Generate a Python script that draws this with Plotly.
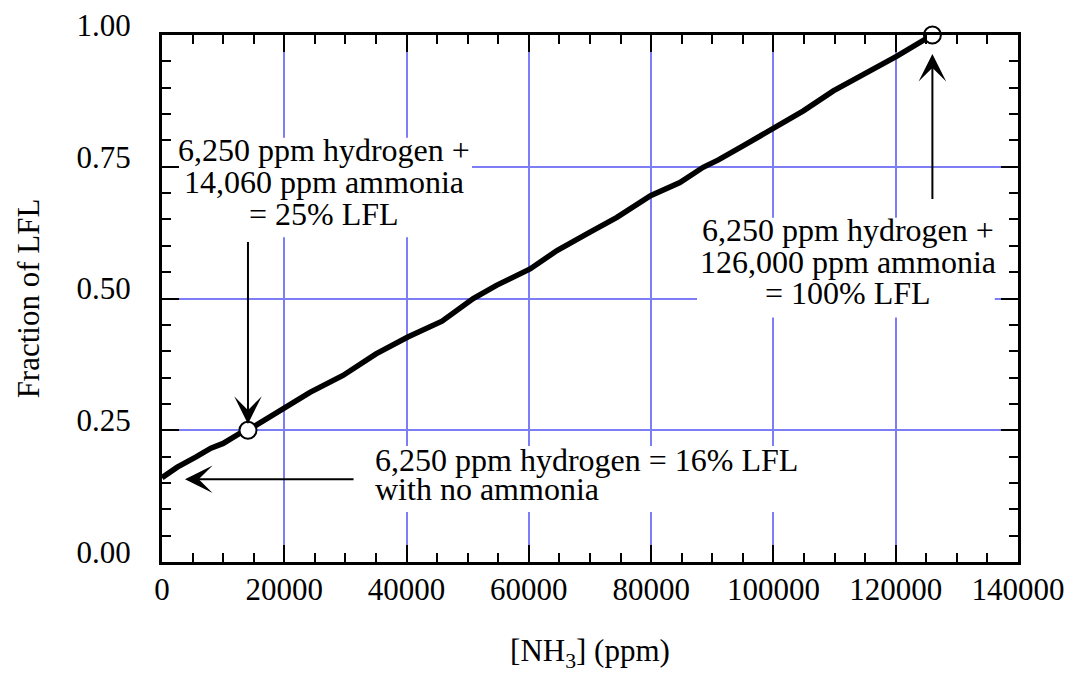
import plotly.graph_objects as go

# Ammonia concentration (ppm) and the resulting fraction of the lower flammability limit
nh3_ppm = [0, 2500, 5500, 8000, 10000, 12700, 14060, 17600, 20000, 24200, 29600,
           35000, 40200, 45800, 50900, 54700, 60200, 64600, 70000, 74400, 79900,
           84700, 88500, 91000, 95100, 100000, 104900, 109800, 115300, 120200, 126000]
frac_lfl = [0.16, 0.18, 0.199, 0.216, 0.225, 0.244, 0.25, 0.275, 0.291, 0.322, 0.354,
            0.395, 0.427, 0.457, 0.50, 0.525, 0.556, 0.591, 0.626, 0.654, 0.695,
            0.720, 0.749, 0.763, 0.790, 0.824, 0.856, 0.894, 0.929, 0.960, 1.00]

# Highlighted operating points
point_nh3 = [14060, 126000]
point_frac = [0.25, 1.00]

x_ticks = [0, 20000, 40000, 60000, 80000, 100000, 120000, 140000]
y_ticks = [0.00, 0.25, 0.50, 0.75, 1.00]

FONT = "Liberation Serif, Times New Roman, serif"
GRID = "rgb(125,125,245)"

fig = go.Figure()
fig.add_trace(go.Scatter(x=nh3_ppm, y=frac_lfl, mode="lines",
                         line=dict(color="black", width=5.5), showlegend=False))
fig.add_trace(go.Scatter(x=point_nh3, y=point_frac, mode="markers",
                         marker=dict(size=17, color="white",
                                     line=dict(color="black", width=2)),
                         showlegend=False, cliponaxis=False))

# White panels behind the labels so the grid does not run through the text
label_boxes = [
    (2100, 50700, 0.616, 0.805),
    (87500, 136200, 0.464, 0.653),
    (33200, 104400, 0.095, 0.220),
]
for x0, x1, y0, y1 in label_boxes:
    fig.add_shape(type="rect", xref="x", yref="y", x0=x0, x1=x1, y0=y0, y1=y1,
                  fillcolor="white", line=dict(width=0), layer="between")

ann_font = dict(family=FONT, size=32, color="black")
annotations = []

def text_line(x, y, text, anchor="center"):
    annotations.append(dict(x=x, y=y, xref="x", yref="y", text=text, showarrow=False,
                            xanchor=anchor, yanchor="middle", font=ann_font))

# 25 % LFL label
text_line(26500, 0.782, "6,250 ppm hydrogen +")
text_line(26500, 0.721, "14,060 ppm ammonia")
text_line(26500, 0.661, "= 25% LFL")
# 100 % LFL label
text_line(112150, 0.630, "6,250 ppm hydrogen +")
text_line(112150, 0.569, "126,000 ppm ammonia")
text_line(112150, 0.510, "= 100% LFL")
# no-ammonia label
text_line(34460, 0.193, "6,250 ppm hydrogen = 16% LFL", anchor="left")
text_line(34460, 0.139, "with no ammonia", anchor="left")

def arrow(x, y, ax, ay):
    annotations.append(dict(x=x, y=y, ax=ax, ay=ay, xref="x", yref="y",
                            axref="x", ayref="y", text="", showarrow=True,
                            arrowhead=3, arrowsize=2.3, arrowwidth=2,
                            arrowcolor="black", standoff=0, startstandoff=0))

arrow(14060, 0.262, 14060, 0.61)
arrow(3760, 0.157, 31570, 0.157)
arrow(126000, 0.964, 126000, 0.686)

axis_common = dict(
    showline=True, linecolor="black", linewidth=3, mirror="allticks",
    ticks="inside", ticklen=17, tickwidth=2, tickcolor="black",
    showgrid=True, gridcolor=GRID, gridwidth=2, zeroline=False, automargin=False,
    tickfont=dict(family=FONT, size=31, color="black"),
)

fig.update_xaxes(**axis_common, range=[0, 140000], tickvals=x_ticks,
                 tickformat="d", ticklabelstandoff=-2,
                 minor=dict(dtick=5000, ticklen=9, tickwidth=2, tickcolor="black",
                            ticks="inside", showgrid=False),
                 title=dict(text="[NH<sub>3</sub>] (ppm)",
                            font=dict(family=FONT, size=31, color="black"),
                            standoff=45))
fig.update_yaxes(**axis_common, range=[0, 1], tickvals=y_ticks,
                 tickformat=".2f", ticklabelstandoff=22, ticklabelshift=-10,
                 minor=dict(dtick=0.05, ticklen=9, tickwidth=2, tickcolor="black",
                            ticks="inside", showgrid=False),
                 title=dict(text="Fraction of LFL",
                            font=dict(family=FONT, size=31, color="black"),
                            standoff=28))

fig.update_layout(width=1068, height=673, margin=dict(l=162, r=50, t=35, b=111),
                  paper_bgcolor="white", plot_bgcolor="white",
                  annotations=annotations, font=dict(family=FONT))

fig.write_html("out.html")
